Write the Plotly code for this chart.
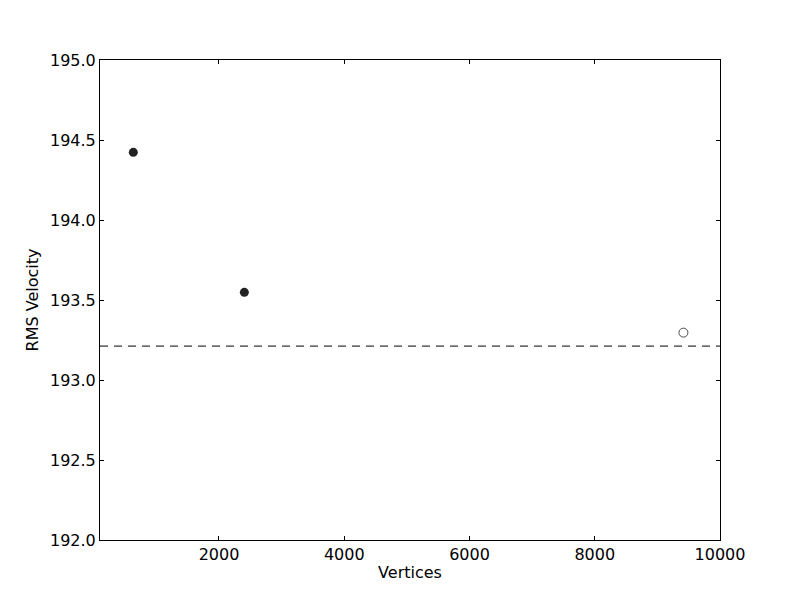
import plotly.graph_objects as go

# measured runs (filled) and the extrapolated one (open)
vertices = [632, 2405]
rms_velocity = [194.423, 193.548]
extra_vertices = [9416]
extra_rms = [193.296]
reference_rms = 193.212

x_ticks = [2000, 4000, 6000, 8000, 10000]
y_ticks = [192.0, 192.5, 193.0, 193.5, 194.0, 194.5, 195.0]

fig = go.Figure()
fig.add_trace(
    go.Scatter(
        x=vertices,
        y=rms_velocity,
        mode="markers",
        marker={"size": 9, "color": "#222222"},
        showlegend=False,
    )
)
fig.add_trace(
    go.Scatter(
        x=extra_vertices,
        y=extra_rms,
        mode="markers",
        marker={
            "size": 9,
            "color": "white",
            "line": {"color": "#222222", "width": 0.8},
        },
        showlegend=False,
    )
)
fig.add_shape(
    type="line",
    xref="paper",
    x0=0,
    x1=1,
    yref="y",
    y0=reference_rms,
    y1=reference_rms,
    line={"color": "black", "width": 1, "dash": "8px,6px"},
)

axis_style = dict(
    showgrid=False,
    zeroline=False,
    showline=True,
    linecolor="black",
    linewidth=1,
    mirror="ticks",
    ticks="inside",
    ticklen=4,
    tickcolor="black",
    tickfont={"size": 16, "color": "black"},
)
fig.update_xaxes(
    range=[100, 10000],
    tickvals=x_ticks,
    tickformat="d",
    title={"text": "Vertices", "font": {"size": 16, "color": "black"}, "standoff": 3},
    **axis_style,
)
fig.update_yaxes(
    range=[192, 195],
    tickvals=y_ticks,
    tickformat=".1f",
    title={"text": "RMS Velocity", "font": {"size": 16, "color": "black"}, "standoff": 7},
    **axis_style,
)
fig.update_layout(
    width=792,
    height=592,
    margin={"l": 92, "r": 80, "t": 52, "b": 60},
    plot_bgcolor="white",
    paper_bgcolor="white",
    font={"family": "DejaVu Sans"},
)
fig.write_html("out.html")
